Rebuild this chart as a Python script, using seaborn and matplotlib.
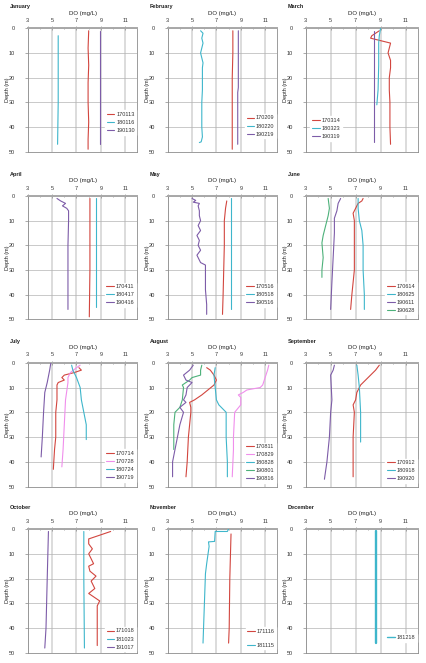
import matplotlib
matplotlib.use("Agg")
import matplotlib.pyplot as plt
import seaborn as sns
import pandas as pd

sns.set_style("white")
plt.rcParams["font.family"] = ["Liberation Sans", "DejaVu Sans"]

# ---- data: depth (m) and DO (mg/L) per profile ----
p170113_depth = [1, 8, 15, 22, 30, 38, 45, 49]
p170113_do = [8.0, 7.95, 8.0, 7.95, 7.95, 8.0, 7.95, 7.95]
p180116_depth = [3, 15, 30, 47]
p180116_do = [5.5, 5.5, 5.5, 5.45]
p190130_depth = [1, 15, 30, 47]
p190130_do = [8.9, 8.9, 8.9, 8.9]

p170209_depth = [1, 10, 20, 30, 40, 49]
p170209_do = [8.35, 8.35, 8.3, 8.3, 8.3, 8.3]
p180220_depth = [1, 2, 4, 6, 8, 10, 12, 14, 16, 20, 25, 30, 35, 40, 44, 46, 46.3]
p180220_do = [5.7, 5.9, 5.8, 5.9, 5.8, 5.7, 5.8, 5.9, 5.85, 5.85, 5.85, 5.8, 5.8, 5.8, 5.85, 5.75, 5.6]
p190219_depth = [1, 24, 26, 47]
p190219_do = [8.8, 8.8, 8.75, 8.75]

p170314_depth = [1, 2, 3, 4, 5, 6, 8, 10, 13, 16, 20, 25, 30, 40, 47]
p170314_do = [8.9, 8.6, 8.3, 8.2, 9.0, 9.8, 9.7, 9.6, 9.8, 9.8, 9.7, 9.7, 9.75, 9.75, 9.8]
p180323_depth = [0, 3, 6, 15, 25, 31]
p180323_do = [9.0, 8.9, 8.85, 8.85, 8.8, 8.7]
p190319_depth = [1, 46]
p190319_do = [8.5, 8.5]

p170411_depth = [1, 15, 30, 49]
p170411_do = [8.1, 8.1, 8.1, 8.05]
p180417_depth = [1, 45]
p180417_do = [8.6, 8.6]
p190416_depth = [1, 2, 3, 4, 5, 6, 10, 20, 30, 40, 46]
p190416_do = [5.4, 5.7, 6.1, 5.85, 6.2, 6.35, 6.35, 6.3, 6.3, 6.3, 6.3]

p170516_depth = [2, 5, 10, 20, 30, 40, 48]
p170516_do = [7.85, 7.75, 7.65, 7.65, 7.6, 7.55, 7.5]
p180518_depth = [1, 46]
p180518_do = [8.2, 8.2]
p190516_depth = [1, 1.8, 2.5, 3, 4, 6, 8, 10, 12, 14, 16, 18, 20, 22, 24, 26, 27, 28, 32, 38, 44, 48]
p190516_do = [5.0, 5.3, 5.1, 5.6, 5.5, 5.6, 5.6, 5.7, 5.5, 5.7, 5.4, 5.6, 5.5, 5.7, 5.4, 5.6, 5.7,
              6.1, 6.1, 6.1, 6.2, 6.2]

p170614_depth = [1, 2, 3, 5, 7, 10, 20, 30, 35, 40, 46]
p170614_do = [7.6, 7.5, 7.2, 7.0, 6.8, 6.9, 6.9, 6.9, 6.8, 6.7, 6.6]
p180625_depth = [1, 5, 10, 14, 20, 30, 40, 46]
p180625_do = [7.2, 7.2, 7.3, 7.5, 7.6, 7.6, 7.7, 7.7]
p190611_depth = [1, 3, 6, 9, 15, 25, 35, 46]
p190611_do = [5.8, 5.6, 5.5, 5.3, 5.3, 5.2, 5.1, 5.0]
p190628_depth = [1, 5, 8, 12, 16, 19, 25, 30, 33]
p190628_do = [4.8, 4.9, 4.8, 4.6, 4.4, 4.3, 4.4, 4.3, 4.3]

p170714_depth = [2, 3, 4, 5, 6, 7, 8, 9, 15, 20, 30, 35, 43]
p170714_do = [7.2, 7.4, 6.8, 6.0, 5.8, 6.0, 5.5, 5.4, 5.4, 5.3, 5.3, 5.2, 5.1]
p170728_depth = [1, 2, 4, 6, 8, 15, 25, 35, 42]
p170728_do = [7.3, 7.0, 6.5, 6.3, 6.3, 6.1, 6.0, 5.9, 5.8]
p180724_depth = [1, 3, 6, 10, 15, 20, 25, 31]
p180724_do = [6.6, 6.7, 7.0, 7.3, 7.4, 7.6, 7.8, 7.8]
p190719_depth = [0, 3, 8, 12, 20, 30, 38]
p190719_do = [4.9, 4.8, 4.6, 4.4, 4.3, 4.2, 4.1]

p170811_depth = [2, 3, 5, 7, 9, 11, 13, 15, 16, 18, 20, 30, 40, 46]
p170811_do = [6.2, 6.5, 6.8, 7.0, 6.8, 6.3, 5.8, 5.2, 4.8, 4.9, 4.9, 4.7, 4.6, 4.5]
p170829_depth = [1, 3, 6, 9, 10, 11, 12, 13, 14, 17, 20, 30, 35, 46]
p170829_do = [11.3, 11.2, 11.0, 10.8, 10.6, 9.5, 9.2, 8.8, 9.0, 9.0, 8.5, 8.4, 8.4, 8.3]
p180828_depth = [2, 5, 10, 15, 17, 19, 20, 30, 40, 46]
p180828_do = [6.9, 6.8, 6.9, 7.0, 7.2, 7.6, 7.8, 7.8, 7.9, 7.9]
p190801_depth = [1, 3, 5, 6, 7, 9, 10, 15, 18, 20, 25, 35]
p190801_do = [5.8, 5.7, 5.7, 5.0, 4.8, 4.2, 4.3, 4.2, 4.0, 3.6, 3.5, 3.5]
p190816_depth = [1, 3, 5, 7, 8, 10, 13, 15, 16, 18, 20, 25, 30, 35, 40, 46]
p190816_do = [5.1, 4.8, 4.3, 4.5, 5.0, 4.6, 4.5, 4.3, 4.5, 4.0, 4.3, 4.0, 3.8, 3.6, 3.4, 3.4]

p170912_depth = [1, 3, 5, 7, 9, 12, 15, 17, 20, 30, 40, 46]
p170912_do = [8.9, 8.6, 8.2, 7.8, 7.4, 7.1, 7.0, 6.8, 6.9, 6.8, 6.8, 6.8]
p180918_depth = [1, 5, 10, 20, 32]
p180918_do = [7.1, 7.2, 7.3, 7.4, 7.4]
p190920_depth = [1, 3, 5, 15, 20, 30, 40, 47]
p190920_do = [5.3, 5.2, 5.0, 5.1, 5.0, 4.9, 4.7, 4.5]

p171018_depth = [1, 2, 3, 4, 6, 8, 10, 12, 14, 15, 17, 19, 21, 24, 26, 29, 31, 40, 47]
p171018_do = [9.8, 9.2, 8.6, 8.0, 8.0, 8.3, 8.0, 8.2, 8.4, 8.0, 8.1, 8.6, 8.2, 8.5, 8.0, 8.9, 8.7, 8.7, 8.7]
p181023_depth = [1, 20, 48]
p181023_do = [7.6, 7.6, 7.65]
p191017_depth = [1, 20, 40, 48]
p191017_do = [4.7, 4.6, 4.5, 4.4]

p171116_depth = [2, 20, 40, 46]
p171116_do = [8.2, 8.1, 8.05, 8.0]
p181115_depth = [0, 1, 1, 5, 5.2, 7, 14, 18, 46]
p181115_do = [8.0, 7.9, 6.9, 6.85, 6.35, 6.4, 6.2, 6.1, 5.9]

p181218_depth = [1, 46]
p181218_do = [8.6, 8.6]

months = ["January", "February", "March", "April", "May", "June",
          "July", "August", "September", "October", "November", "December"]
month_dates = [
    ["170113", "180116", "190130"],
    ["170209", "180220", "190219"],
    ["170314", "180323", "190319"],
    ["170411", "180417", "190416"],
    ["170516", "180518", "190516"],
    ["170614", "180625", "190611", "190628"],
    ["170714", "170728", "180724", "190719"],
    ["170811", "170829", "180828", "190801", "190816"],
    ["170912", "180918", "190920"],
    ["171018", "181023", "191017"],
    ["171116", "181115"],
    ["181218"],
]

profiles = {name[1:-6]: (globals()[name], globals()["p" + name[1:-6] + "_do"])
            for name in list(globals()) if name.startswith("p") and name.endswith("_depth")}

RED, CYAN, PURPLE, GREEN, PINK = "#D2463F", "#3EB6CB", "#7D5CA8", "#4DB17A", "#F08EEC"
date_colors = {d: RED for d in ["170113", "170209", "170314", "170411", "170516", "170614",
                                "170714", "170811", "170912", "171018", "171116"]}
date_colors.update({d: CYAN for d in ["180116", "180220", "180323", "180417", "180518", "180625",
                                      "180724", "180828", "180918", "181023", "181115", "181218"]})
date_colors.update({d: PURPLE for d in ["190130", "190219", "190319", "190416", "190516", "190611",
                                        "190719", "190816", "190920", "191017"]})
date_colors.update({"190628": GREEN, "190801": GREEN, "170728": PINK, "170829": PINK})

# legend placement (loc, y anchor in axes fraction)
legend_pos = [("lower right", 0.13), ("lower right", 0.10), ("lower left", 0.08),
              ("lower right", 0.09), ("lower right", 0.09), ("lower right", 0.03),
              ("lower right", 0.03), ("lower right", 0.02), ("lower right", 0.02),
              ("lower right", 0.005), ("lower right", 0.02), ("lower right", 0.08)]

W, H = 427, 663
col_left = [27.7, 167.7, 305.7]
col_w = [109.8, 109.6, 112.3]
row_top = [28.3, 196.0, 362.7, 529.0]
row_h = [123.4, 123.3, 124.0, 124.0]

fig = plt.figure(figsize=(W / 100, H / 100), dpi=100)

for i, (month, dates) in enumerate(zip(months, month_dates)):
    r, c = divmod(i, 3)
    ax = fig.add_axes([col_left[c] / W, 1 - (row_top[r] + row_h[r]) / H, col_w[c] / W, row_h[r] / H])

    rows = []
    for d in dates:
        dep, do = profiles[d]
        for k, (y, x) in enumerate(zip(dep, do)):
            rows.append({"date": d, "order": k, "depth": y, "do": x})
    df = pd.DataFrame(rows)

    lw = 1.7 if month == "December" else 0.8
    sns.lineplot(data=df, x="do", y="depth", hue="date", hue_order=dates,
                 palette=[date_colors[d] for d in dates], sort=False, estimator=None,
                 lw=lw, ax=ax, zorder=3)

    ax.set_xlim(3, 12)
    ax.set_ylim(50, 0)
    ax.xaxis.tick_top()
    ax.xaxis.set_label_position("top")
    ax.set_xticks([3, 5, 7, 9, 11])
    ax.set_xticks([4, 6, 8, 10], minor=True)
    ax.set_yticks([0, 10, 20, 30, 40, 50])
    ax.set_xlabel("DO (mg/L)", fontsize=4.3, labelpad=2.5, color="#222222")
    ax.set_ylabel("Depth (m)", fontsize=4, color="#222222")
    ax.yaxis.set_label_coords(-0.16, 0.5)
    ax.tick_params(axis="x", which="major", top=True, direction="inout", length=2.5, width=0.5,
                   pad=2.5, labelsize=4, labelcolor="#333333", color="#888888")
    ax.tick_params(axis="x", which="minor", top=True, direction="inout", length=1.8, width=0.5,
                   color="#888888")
    ax.tick_params(axis="y", left=True, direction="out", length=2, width=0.5, pad=7,
                   labelsize=4, labelcolor="#333333", color="#888888")

    ax.xaxis.grid(True, which="major", color="#d6d6d6", lw=1.2, zorder=0)
    ax.yaxis.grid(True, which="major", color="#b3b3b3", lw=0.5, zorder=0)
    ax.set_axisbelow(True)
    for side in ["left", "right", "bottom"]:
        ax.spines[side].set_color("#8c8c8c")
        ax.spines[side].set_linewidth(0.6)
    ax.spines["top"].set_color("#a8a8a8")
    ax.spines["top"].set_linewidth(1.4)

    loc, ya = legend_pos[i]
    xa = 0.03 if loc == "lower left" else 1.0
    spacing = 1.6 if month == "November" else 0.55
    sns.move_legend(ax, loc, bbox_to_anchor=(xa, ya), title=None, fontsize=4,
                    frameon=True, framealpha=1, facecolor="white", edgecolor="white",
                    handlelength=1.4, handletextpad=0.3, labelspacing=spacing,
                    borderpad=0.3, borderaxespad=0.2, fancybox=False)
    for line in ax.get_legend().get_lines():
        line.set_linewidth(0.8 if month != "December" else 1.0)
    for t in ax.get_legend().get_texts():
        t.set_color("#333333")

    fig.text((col_left[c] - 18) / W, 1 - (row_top[r] - 21.5) / H, month,
             fontsize=4, fontweight="bold", va="center", ha="left", color="#222222")

fig.savefig("out.png", dpi=100)
